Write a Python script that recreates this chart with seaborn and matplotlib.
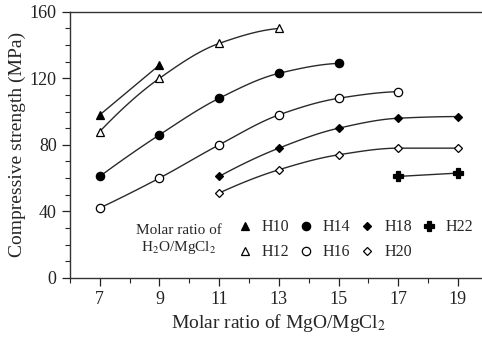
import numpy as np
import pandas as pd
import matplotlib
matplotlib.use("Agg")
import matplotlib.pyplot as plt
import seaborn as sns

sns.set_style("ticks")
plt.rcParams['font.family'] = ['Liberation Serif', 'DejaVu Serif']
plt.rcParams['mathtext.fontset'] = 'stix'

# data
labels = ['H10', 'H12', 'H14', 'H16', 'H18', 'H20', 'H22']
x_h10 = [7, 9]
y_h10 = [98, 128]
x_h12 = [7, 9, 11, 13]
y_h12 = [88, 120, 141, 150]
x_h14 = [7, 9, 11, 13, 15]
y_h14 = [61, 86, 108, 123, 129]
x_h16 = [7, 9, 11, 13, 15, 17]
y_h16 = [42, 60, 80, 98, 108, 112]
x_h18 = [11, 13, 15, 17, 19]
y_h18 = [61, 78, 90, 96, 97]
x_h20 = [11, 13, 15, 17, 19]
y_h20 = [51, 65, 74, 78, 78]
x_h22 = [17, 19]
y_h22 = [61, 63]

series = [(x_h10, y_h10), (x_h12, y_h12), (x_h14, y_h14), (x_h16, y_h16),
          (x_h18, y_h18), (x_h20, y_h20), (x_h22, y_h22)]
markers = ['^', '^', 'o', 'o', 'D', 'D', 'P']
filled = [True, False, True, False, True, False, True]
msizes = [6, 6, 6, 6, 4.5, 4.5, 6.5]


def smooth(xs, ys, n=60):
    # monotone cubic (pchip) curve through the measured points, for drawing only
    x = np.asarray(xs, float)
    y = np.asarray(ys, float)
    h = np.diff(x)
    d = np.diff(y) / h
    if len(x) == 2:
        return x, y
    m = np.zeros_like(y)
    for k in range(1, len(x) - 1):
        if d[k - 1] * d[k] > 0:
            w1 = 2 * h[k] + h[k - 1]
            w2 = h[k] + 2 * h[k - 1]
            m[k] = (w1 + w2) / (w1 / d[k - 1] + w2 / d[k])
    m[0] = ((2 * h[0] + h[1]) * d[0] - h[0] * d[1]) / (h[0] + h[1])
    m[-1] = ((2 * h[-1] + h[-2]) * d[-1] - h[-1] * d[-2]) / (h[-1] + h[-2])
    if np.sign(m[0]) != np.sign(d[0]):
        m[0] = 0
    if np.sign(m[-1]) != np.sign(d[-1]):
        m[-1] = 0
    xx = np.linspace(x[0], x[-1], n)
    idx = np.clip(np.searchsorted(x, xx) - 1, 0, len(x) - 2)
    t = (xx - x[idx]) / h[idx]
    h00 = 2 * t**3 - 3 * t**2 + 1
    h10 = t**3 - 2 * t**2 + t
    h01 = -2 * t**3 + 3 * t**2
    h11 = t**3 - t**2
    yy = h00 * y[idx] + h10 * h[idx] * m[idx] + h01 * y[idx + 1] + h11 * h[idx] * m[idx + 1]
    return xx, yy


fig = plt.figure(figsize=(4.82, 3.38), dpi=100)
ax = fig.add_axes([0.145, 0.178, 0.867, 0.787])

for lab, (xs, ys), m, f, ms in zip(labels, series, markers, filled, msizes):
    xx, yy = smooth(xs, ys)
    sns.lineplot(x=xx, y=yy, ax=ax, color='#2a2a2a', lw=1.0, sort=False)
    ax.plot(xs, ys, ls='none', marker=m, ms=ms, mec='black', mew=0.9,
            mfc='black' if f else 'white', label=lab, zorder=5)

ax.set_xlim(6, 20)
ax.set_ylim(0, 160)
ax.set_xticks([7, 9, 11, 13, 15, 17, 19])
ax.set_xticks(np.arange(6, 21, 1), minor=True)
ax.set_yticks([0, 40, 80, 120, 160])
ax.set_yticks(np.arange(0, 161, 10), minor=True)
ax.tick_params(which='major', direction='out', length=6, width=0.9, labelsize=13, colors='#222222')
ax.tick_params(which='minor', direction='out', length=3.5, width=0.8)
for sp in ax.spines.values():
    sp.set_linewidth(1.0)
    sp.set_color('#333333')
sns.despine(ax=ax, top=False, right=False)

ax.set_xlabel(r'Molar ratio of MgO/MgCl$_2$', fontsize=14, labelpad=3)
ax.set_ylabel('Compressive strength (MPa)', fontsize=14, labelpad=3)

ax.text(0.26, 0.143, 'Molar ratio of\nH$_2$O/MgCl$_2$', transform=ax.transAxes,
        ha='center', va='center', fontsize=11, linespacing=1.2)
ax.legend(loc='center left', bbox_to_anchor=(0.385, 0.143), ncol=4, frameon=False,
          fontsize=11.5, handletextpad=0.55, columnspacing=0.55, handlelength=1.0,
          labelspacing=0.55, borderaxespad=0)

fig.savefig('out.png', dpi=100)
